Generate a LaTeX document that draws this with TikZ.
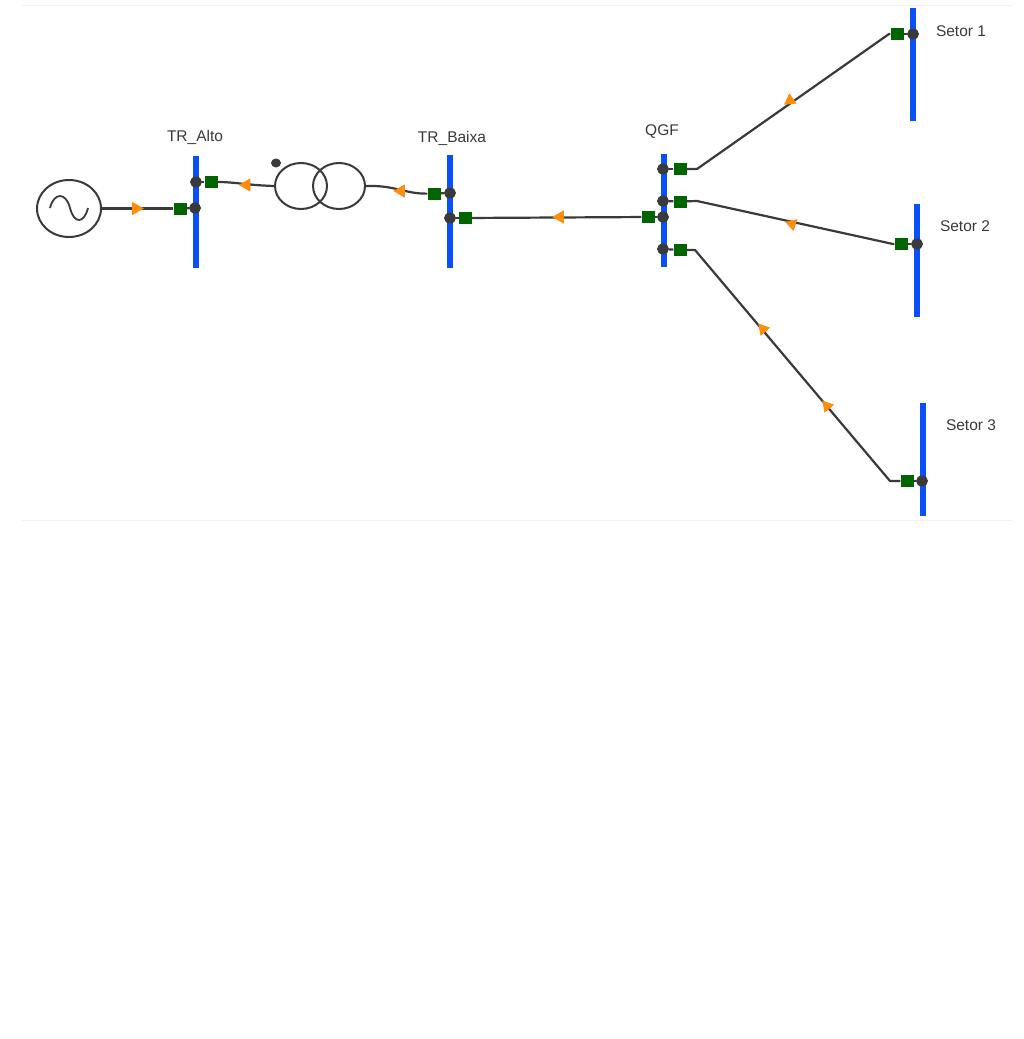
\documentclass[tikz,border=0pt]{standalone}
\usepackage{fontspec}
\setmainfont{Liberation Sans}
\usetikzlibrary{shapes.geometric}
\definecolor{wirecol}{HTML}{3A3A3A}
\definecolor{buscol}{HTML}{0A50F8}
\definecolor{brkcol}{HTML}{006400}
\definecolor{flowcol}{HTML}{FF8C0A}
\tikzset{
  wire/.style={draw=wirecol,line width=2.2pt,line join=round},
  busbar/.style={draw=buscol,line width=6pt},
  term/.style={ellipse,fill=wirecol,inner sep=0pt,minimum width=12pt,minimum height=11pt},
  brk/.style={rectangle,fill=brkcol,inner sep=0pt,minimum width=13pt,minimum height=12pt},
  flow/.style={regular polygon,regular polygon sides=3,fill=flowcol,inner sep=0pt,minimum size=15.5pt},
  flowsmall/.style={flow,minimum size=14.5pt},
  winding/.style={ellipse,draw=wirecol,line width=2pt,inner sep=0pt,minimum width=52pt,minimum height=46pt},
  gen/.style={ellipse,draw=wirecol,line width=2pt,inner sep=0pt,minimum width=64pt,minimum height=57pt},
  lbl/.style={text=wirecol,font=\fontsize{15.5}{17}\selectfont,inner sep=0pt},
  frameline/.style={draw=black!5,line width=1pt}
}
\begin{document}
\begin{tikzpicture}[x=1pt,y=-1pt]
\useasboundingbox (0,0) rectangle (1024,1039);
\fill[white] (0,0) rectangle (1024,1039);
\draw[frameline] (22,5) -- (1012,5);
\draw[frameline] (22,520) -- (1012,520);
% bus bars
\coordinate (b1t) at (195.5,156); \coordinate (b1b) at (195.5,268);
\coordinate (b2t) at (449.5,155); \coordinate (b2b) at (449.5,268);
\coordinate (b3t) at (663.5,154); \coordinate (b3b) at (663.5,267);
\coordinate (s1t) at (912.5,8);   \coordinate (s1b) at (912.5,121);
\coordinate (s2t) at (916.5,204); \coordinate (s2b) at (916.5,317);
\coordinate (s3t) at (922.5,403); \coordinate (s3b) at (922.5,516);
\foreach \t/\b in {b1t/b1b,b2t/b2b,b3t/b3b,s1t/s1b,s2t/s2b,s3t/s3b}
  \draw[busbar] (\t) -- (\b);
% source and transformer
\node[gen] (G) at (69,208.5) {};
\draw[wirecol,line width=1.8pt] (50,208) .. controls (54,192) and (66,192) .. (70,208) .. controls (74,224) and (84,224) .. (88,208);
\node[winding] (W1) at (301,186) {};
\node[winding] (W2) at (339,186) {};
\node[term,minimum width=10pt,minimum height=9pt] (dot) at (276,163) {};
% terminals
\node[term] (d1a) at (195,208) {};
\node[term] (d1b) at (196,182) {};
\node[term] (d2a) at (450,193) {};
\node[term] (d2b) at (450,218) {};
\node[term] (d3a) at (663,169) {};
\node[term] (d3b) at (663,201) {};
\node[term] (d3c) at (663,217) {};
\node[term] (d3d) at (663,249) {};
\node[term] (ds1) at (913,34) {};
\node[term] (ds2) at (917,244) {};
\node[term] (ds3) at (922,481) {};
% breakers
\node[brk] (k1a) at (180,208.5) {};
\node[brk] (k1b) at (211,182) {};
\node[brk] (k2a) at (434,193.5) {};
\node[brk] (k2b) at (465.5,218) {};
\node[brk] (k3a) at (680,169) {};
\node[brk] (k3b) at (680,201.5) {};
\node[brk] (k3c) at (648,217) {};
\node[brk] (k3d) at (680,250) {};
\node[brk] (ks1) at (897,34) {};
\node[brk] (ks2) at (901,244) {};
\node[brk] (ks3) at (907,481) {};
% wires
\draw[wire] (G.east) -- (k1a);
\draw[wire] (k1a) -- (d1a);
\draw[wire] (d1b) -- (k1b);
\draw[wire] (k1b) .. controls (235,182) and (245,185) .. (W1.west);
\draw[wire] (W2.east) .. controls (395,185) and (405,194) .. (k2a);
\draw[wire] (k2a) -- (d2a);
\draw[wire] (d2b) -- (k2b);
\draw[wire] (k2b) -- (k3c);
\draw[wire] (k3c) -- (d3c);
\draw[wire] (d3a) -- (k3a);
\draw[wire] (d3b) -- (k3b);
\draw[wire] (d3d) -- (k3d);
\draw[wire] (k3a) -- (697,169) -- (889,34) -- (ks1);
\draw[wire] (ks1) -- (ds1);
\draw[wire] (k3b) -- (697,201) -- (893,244) -- (ks2);
\draw[wire] (ks2) -- (ds2);
\draw[wire] (k3d) -- (695,250) -- (890,481) -- (ks3);
\draw[wire] (ks3) -- (ds3);
% flow arrows
\node[flow,rotate=-90] (f1) at (136,208.5) {};
\node[flow,rotate=90]  (f2) at (246.5,185) {};
\node[flow,rotate=90]  (f3) at (401,191) {};
\node[flow,rotate=90]  (f4) at (560,217) {};
\node[flowsmall,rotate=5]   (f5) at (790,100.5) {};
\node[flowsmall,rotate=72]  (f6) at (792,224) {};
\node[flowsmall,rotate=41]  (f7) at (763,329) {};
\node[flowsmall,rotate=41]  (f8) at (827,406) {};
% labels
\node[lbl] (t1) at (195,137) {TR\_Alto};
\node[lbl] (t2) at (452,138) {TR\_Baixa};
\node[lbl] (t3) at (662,132) {QGF};
\node[lbl] (t4) at (961,31) {Setor 1};
\node[lbl] (t5) at (965,226) {Setor 2};
\node[lbl] (t6) at (971,425) {Setor 3};
\end{tikzpicture}
\end{document}
